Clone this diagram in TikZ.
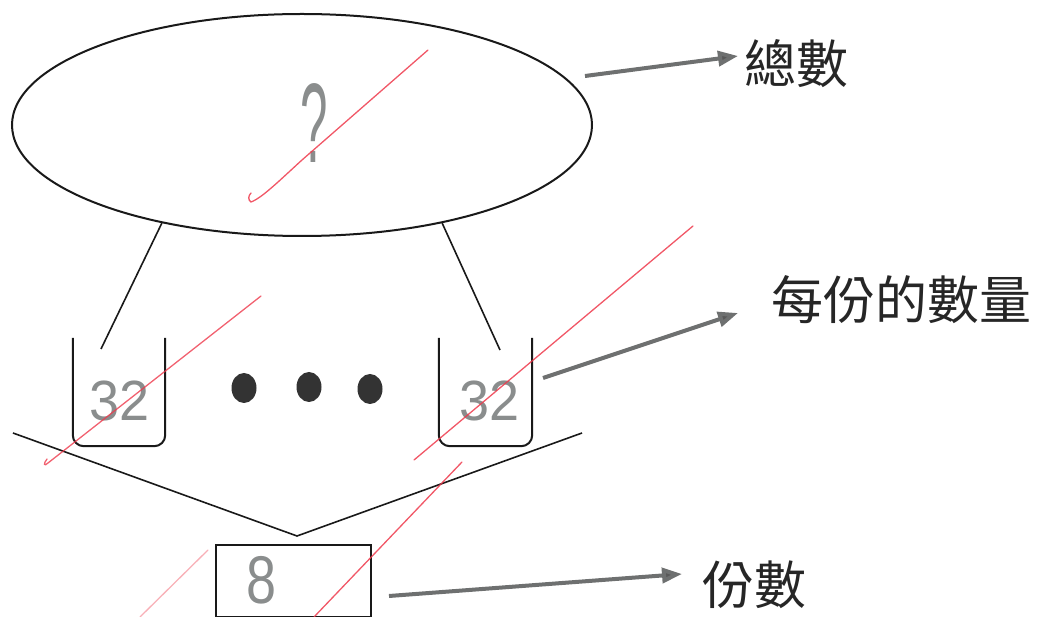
\documentclass[tikz,border=0pt]{standalone}
\usepackage{fontspec}
\newfontfamily\cjk{Noto Sans CJK TC}
\newfontfamily\hand{Liberation Sans}
\usetikzlibrary{arrows.meta,shapes.geometric}
\definecolor{pencil}{HTML}{8A8D8D}
\definecolor{arrowgray}{HTML}{6E7070}
\definecolor{redpen}{HTML}{EE3A4C}
\tikzset{
  outline/.style={draw=black!90, line width=2pt},
  thinline/.style={draw=black!90, line width=1.6pt},
  handtext/.style={text=pencil, font=\hand, inner sep=0pt},
  label/.style={font=\cjk\fontsize{52}{52}\selectfont, text=black!85, inner sep=0pt, anchor=west},
  pointer/.style={draw=arrowgray, line width=4pt, -{Triangle[length=20pt,width=15pt,fill=black!65]}},
  bigdot/.style={ellipse, fill=black!80, minimum width=25pt, minimum height=30pt, inner sep=0pt},
  redstroke/.style={draw=redpen, line width=1.3pt, line cap=round},
}
\begin{document}
\begin{tikzpicture}[x=1pt,y=-1pt]
\useasboundingbox (0,0) rectangle (1045,617);
% total ellipse
\node[outline, ellipse, minimum width=580pt, minimum height=222pt, inner sep=0pt] (total) at (302,125) {};
\node[handtext] (q) at (314,123) {\scalebox{0.85}[1.95]{\fontsize{58}{58}\selectfont ?}};
% cups
\node[minimum width=92pt, minimum height=108pt, inner sep=0pt] (cupL) at (119,392) {};
\node[minimum width=93pt, minimum height=108pt, inner sep=0pt] (cupR) at (485.5,392) {};
\draw[outline, rounded corners=11pt] (cupL.north west) -- (cupL.south west) -- (cupL.south east) -- (cupL.north east);
\draw[outline, rounded corners=11pt] (cupR.north west) -- (cupR.south west) -- (cupR.south east) -- (cupR.north east);
\node[handtext] (nL) at (120,401) {\scalebox{1}[1.05]{\fontsize{54}{54}\selectfont 32}};
\node[handtext] (nR) at (490,401) {\scalebox{1}[1.05]{\fontsize{54}{54}\selectfont 32}};
% links from ellipse to cups
\coordinate (lkL) at (101,349);
\coordinate (lkR) at (500,350);
\draw[thinline] (total.215) -- (lkL);
\draw[thinline] (total.-35) -- (lkR);
% dots
\node[bigdot] (d1) at (244,388) {};
\node[bigdot] (d2) at (309,387) {};
\node[bigdot] (d3) at (370,389) {};
% V shape
\coordinate (vL) at (13,433);
\coordinate (vA) at (297,536);
\coordinate (vR) at (582,433);
\draw[thinline] (vL) -- (vA) -- (vR);
% parts box
\node[outline, minimum width=155pt, minimum height=72pt, inner sep=0pt] (parts) at (293.5,581) {};
\node[handtext] (n8) at (262,580) {\scalebox{1}[1.25]{\fontsize{54}{54}\selectfont 8}};
% labels
\node[label] (lblTotal) at (744,64) {總數};
\node[label] (lblEach) at (771,300) {每份的數量};
\node[label] (lblParts) at (702,585) {份數};
% pointers
\coordinate (p1s) at (585,76);
\coordinate (p1e) at (738,56);
\coordinate (p2s) at (543,378);
\coordinate (p2e) at (738,313);
\coordinate (p3s) at (389,596);
\coordinate (p3e) at (682,574);
\draw[pointer] (p1s) -- (p1e);
\draw[pointer] (p2s) -- (p2e);
\draw[pointer] (p3s) -- (p3e);
% red pen strokes
\draw[redstroke, draw opacity=0.85] (428,50) -- (302,160) .. controls (280,180) and (262,198) .. (251,202) .. controls (248,200) and (248,196) .. (251,193);
\draw[redstroke, draw opacity=0.8] (261,296) -- (48,463) .. controls (44,467) and (43,464) .. (47,459);
\draw[redstroke, draw opacity=0.85] (693,226) -- (414,460);
\draw[redstroke, draw opacity=0.85] (462,462) -- (314,617);
\draw[redstroke, draw opacity=0.4] (208,550) -- (140,617);
\end{tikzpicture}
\end{document}
